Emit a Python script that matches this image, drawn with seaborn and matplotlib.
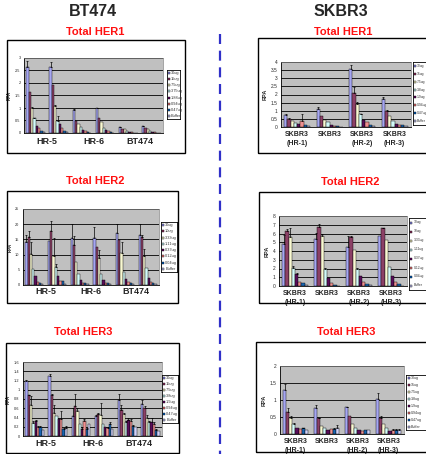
import numpy as np
import pandas as pd
import matplotlib
matplotlib.use("Agg")
import matplotlib.pyplot as plt
import matplotlib.transforms as mtrans
import seaborn as sns
from matplotlib.patches import Rectangle
from matplotlib.lines import Line2D

sns.set_style("white")
plt.rcParams["font.family"] = ["Liberation Sans", "DejaVu Sans"]

# ---------------- data ----------------
COLORS = ["#9999FF", "#993366", "#FFFFCC", "#CCFFFF", "#660066", "#FF8080", "#0066CC", "#CCCCFF"]

bt_cats = ["HR-5 a", "HR-5 b", "HR-6 a", "HR-6 b", "BT474 a", "BT474 b"]
bt_groups = ["HR-5", "HR-6", "BT474"]
sk_cats = ["SKBR3\n(HR-1)", "SKBR3", "SKBR3\n(HR-2)", "SKBR3\n(HR-3)"]

doses_bt_her1 = ["30ug", "15ug", "7.5ug", "3.75ug", "1.88ug", "0.94ug", "0.47ug", "Buffer"]
doses_her2 = ["30ug", "10ug", "3.33ug", "1.11ug", "0.37ug", "0.12ug", "0.04ug", "Buffer"]
doses_her3 = ["30ug", "15ug", "7.5ug", "3.8ug", "1.9ug", "0.94ug", "0.47ug", "Buffer"]
doses_sk_her1 = ["30ug", "15ug", "7.5ug", "3.8ug", "1.9ug", "0.94ug", "0.47ug", "Buffer"]

bt_her1 = [[2.65, 1.65, 1.00, 0.58, 0.30, 0.20, 0.10, 0.04],
           [2.65, 1.93, 1.07, 0.48, 0.35, 0.20, 0.08, 0.03],
           [0.92, 0.48, 0.37, 0.25, 0.13, 0.08, 0.05, 0.02],
           [0.98, 0.60, 0.45, 0.22, 0.13, 0.08, 0.05, 0.02],
           [0.25, 0.18, 0.15, 0.08, 0.05, 0.03, 0.02, 0.01],
           [0.27, 0.20, 0.15, 0.10, 0.05, 0.03, 0.02, 0.01]]
bt_her1_err = [[0.22, 0, 0.03, 0.03, 0, 0, 0, 0],
               [0.20, 0, 0.05, 0.20, 0, 0, 0, 0],
               [0.03, 0, 0, 0, 0, 0, 0, 0],
               [0.02, 0, 0, 0, 0, 0, 0, 0],
               [0.01, 0, 0, 0, 0, 0, 0, 0],
               [0.03, 0, 0, 0, 0, 0, 0, 0]]

bt_her2 = [[14.0, 15.8, 10.3, 5.2, 2.8, 1.0, 0.6, 0.3],
           [14.6, 17.6, 9.4, 5.8, 3.0, 1.3, 1.2, 0.3],
           [15.3, 13.2, 7.5, 3.7, 1.5, 0.6, 0.5, 0.2],
           [15.3, 12.5, 9.0, 3.6, 1.6, 0.6, 0.5, 0.2],
           [17.0, 14.8, 10.5, 4.2, 2.0, 1.0, 0.8, 0.3],
           [16.6, 15.8, 9.4, 5.6, 2.4, 1.0, 0.8, 0.3]]
bt_her2_err = [[2.5, 1.8, 3.7, 0, 0, 0, 0, 0],
               [0, 3.5, 6.0, 1.0, 0, 0, 0, 0],
               [4.7, 3.0, 0, 0, 0, 0, 0, 0],
               [3.8, 0, 2.5, 0, 0, 0, 0, 0],
               [3.0, 0, 3.5, 0, 0, 0, 0, 0],
               [3.4, 0.6, 2.5, 0, 0, 0, 0, 0]]

bt_her3 = [[1.20, 0.88, 0.66, 0.29, 0.32, 0.20, 0.20, 0.12],
           [1.30, 0.88, 0.50, 0.44, 0.36, 0.36, 0.15, 0.17],
           [0.44, 0.64, 0.54, 0.27, 0.16, 0.33, 0.15, 0.25],
           [0.44, 0.47, 0.46, 0.27, 0.20, 0.18, 0.26, 0.15],
           [0.78, 0.56, 0.48, 0.30, 0.35, 0.33, 0.22, 0.20],
           [0.70, 0.60, 0.40, 0.30, 0.30, 0.25, 0.14, 0.10]]
bt_her3_err = [[0.01, 0.01, 0.20, 0.04, 0.02, 0.02, 0.02, 0],
               [0.05, 0.03, 0.18, 0, 0, 0.17, 0.03, 0.05],
               [0.16, 0.26, 0.06, 0, 0.03, 0.03, 0.03, 0],
               [0.02, 0.02, 0.26, 0, 0, 0.02, 0.05, 0],
               [0.12, 0.11, 0.02, 0.03, 0.03, 0.03, 0.02, 0],
               [0.08, 0.05, 0.05, 0.02, 0.1, 0.05, 0.02, 0]]

sk_her1 = [[0.75, 0.52, 0.38, 0.25, 0.18, 0.35, 0.10, 0.05],
           [1.08, 0.68, 0.42, 0.28, 0.12, 0.08, 0.05, 0.02],
           [3.60, 2.10, 1.40, 0.80, 0.45, 0.30, 0.10, 0.05],
           [1.70, 1.00, 0.65, 0.38, 0.20, 0.15, 0.10, 0.08]]
sk_her1_err = [[0.08, 0.05, 0, 0, 0, 0.45, 0, 0],
               [0.17, 0, 0, 0, 0, 0, 0, 0],
               [0.22, 0.35, 0.15, 0.03, 0, 0, 0, 0],
               [0.12, 0.05, 0, 0, 0, 0, 0, 0]]

sk_her2 = [[4.8, 6.3, 5.6, 2.1, 1.4, 0.5, 0.3, 0.1],
           [5.4, 6.8, 5.7, 1.95, 0.95, 0.3, 0.1, 0.05],
           [4.5, 5.6, 4.1, 1.9, 1.2, 0.45, 0.2, 0.1],
           [5.7, 6.6, 5.3, 2.2, 1.1, 0.45, 0.2, 0.05]]
sk_her2_err = [[1.0, 0.2, 1.0, 0.2, 0.1, 0, 0, 0],
               [0.7, 0.3, 0.3, 0.1, 0, 0, 0, 0],
               [1.2, 0.1, 0, 0.2, 0, 0, 0, 0],
               [0, 0.05, 0, 0, 0, 0, 0, 0]]

sk_her3 = [[1.30, 0.65, 0.48, 0.30, 0.18, 0.16, 0.17, 0.13],
           [0.77, 0.46, 0.25, 0.18, 0.12, 0.14, 0.14, 0.17],
           [0.78, 0.52, 0.30, 0.18, 0.13, 0.10, 0.13, 0.13],
           [1.02, 0.48, 0.30, 0.18, 0.10, 0.11, 0.12, 0.12]]
sk_her3_err = [[0.16, 0.12, 0.04, 0.03, 0, 0, 0.02, 0],
               [0.08, 0.02, 0, 0, 0, 0, 0.03, 0.1],
               [0.02, 0, 0, 0, 0, 0, 0, 0],
               [0.18, 0.05, 0, 0, 0, 0.04, 0.04, 0.04]]

# ---------------- figure ----------------
W, H = 427, 454
fig = plt.figure(figsize=(W / 100, H / 100), dpi=100)
fig.patch.set_facecolor("white")


def frect(x0, y0, x1, y1):
    return [x0 / W, 1 - y1 / H, (x1 - x0) / W, (y1 - y0) / H]


def ftext(x, y, s, **kw):
    fig.text(x / W, 1 - y / H, s, ha="center", va="center", **kw)


def panel(box, plot, leg, title, title_xy, cats, vals, errs, doses, ylim,
          yticks, yticklabels, groups=None, group_y=None, tick_fs=2.8, xlab_fs=5.0,
          leg_fs=2.8):
    bx0, by0, bx1, by1 = box
    fig.add_artist(Rectangle((bx0 / W, 1 - by1 / H), (bx1 - bx0) / W, (by1 - by0) / H,
                             transform=fig.transFigure, fill=False, edgecolor="black", lw=1.0))
    ftext(title_xy[0], title_xy[1], title, color="#FF1010", fontsize=8, fontweight="bold")

    ax = fig.add_axes(frect(*plot))
    df = pd.DataFrame({
        "cat": np.repeat(cats, len(doses)),
        "dose": list(doses) * len(cats),
        "val": np.ravel(vals),
    })
    sns.barplot(data=df, x="cat", y="val", hue="dose", order=cats, hue_order=doses,
                palette=COLORS, edgecolor="black", linewidth=0.3, errorbar=None,
                legend=False, width=0.8, ax=ax)
    bar_containers = list(ax.containers)
    for i, cont in enumerate(bar_containers):
        for j, bar in enumerate(cont):
            e = errs[j][i]
            if e > 0:
                ax.errorbar(bar.get_x() + bar.get_width() / 2, bar.get_height(),
                            yerr=[[0], [e]], color="black", lw=0.5, capsize=0.8,
                            capthick=0.5)
    ax.set_facecolor("#C0C0C0")
    ax.set_ylim(*ylim)
    ax.set_yticks(yticks)
    ax.set_yticklabels(yticklabels, fontsize=tick_fs)
    ax.yaxis.grid(True, color="black", lw=0.6)
    ax.set_axisbelow(True)
    ax.set_xlabel("")
    ax.set_ylabel("RPA", fontsize=tick_fs + 0.5, fontweight="bold", labelpad=2)
    ax.tick_params(axis="y", length=1.5, width=0.4, pad=1)
    for s in ["left", "bottom"]:
        ax.spines[s].set_color("black")
        ax.spines[s].set_linewidth(0.6)
    for s in ["top", "right"]:
        ax.spines[s].set_color("#808080")
        ax.spines[s].set_linewidth(0.5)
    if groups is None:
        ax.set_xticks(range(len(cats)))
        ax.set_xticklabels(cats, fontsize=xlab_fs, fontweight="bold", linespacing=1.4)
        ax.tick_params(axis="x", length=2, width=0.4, pad=1)
    else:
        ax.set_xticks([1.5, 3.5])
        ax.set_xticklabels([])
        ax.tick_params(axis="x", length=2, width=0.4)
        trans = mtrans.blended_transform_factory(ax.transData, fig.transFigure)
        for k, g in enumerate(groups):
            ax.text(2 * k + 0.5, 1 - group_y / H, g, transform=trans, ha="center",
                    va="center", fontsize=6.5, fontweight="bold", clip_on=False)
    ax.set_xlim(-0.5, len(cats) - 0.5)

    # legend box
    lax = fig.add_axes(frect(*leg))
    lax.set_xlim(0, 1)
    lax.set_ylim(0, 1)
    lax.set_xticks([])
    lax.set_yticks([])
    for s in lax.spines.values():
        s.set_linewidth(0.6)
        s.set_color("black")
    n = len(doses)
    for i, (d, c) in enumerate(zip(doses, COLORS)):
        y = 1 - (i + 0.5) / n
        lax.scatter([0.14], [y], marker="s", s=2.5, color=c, edgecolor="black",
                    linewidths=0.3, clip_on=False)
        lax.text(0.26, y, d, fontsize=leg_fs, va="center", ha="left", color="#333333")
    return ax


# headers
ftext(93, 12, "BT474", fontsize=11.5, fontweight="bold")
ftext(341, 12, "SKBR3", fontsize=11.5, fontweight="bold")

# dashed separator
fig.add_artist(Line2D([220 / W, 220 / W], [1 - 34 / H, 0], transform=fig.transFigure,
                      color="#3030C8", lw=1.6, linestyle=(0, (4.5, 3.0))))

# BT474 panels
panel((7, 40, 185, 153), (24, 58, 163, 133), (167, 70, 180, 119), "Total HER1", (95, 32),
      bt_cats, bt_her1, bt_her1_err, doses_bt_her1, (0, 3),
      [0, 0.5, 1, 1.5, 2, 2.5, 3], ["0", "0.5", "1", "1.5", "2", "2.5", "3"],
      groups=bt_groups, group_y=141)
panel((7, 191, 178, 303), (23, 209, 159, 285), (161, 222, 177, 272), "Total HER2", (95, 181),
      bt_cats, bt_her2, bt_her2_err, doses_her2, (0, 25),
      [0, 5, 10, 15, 20, 25], ["0", "5", "10", "15", "20", "25"],
      groups=bt_groups, group_y=291)
panel((6, 343, 179, 453), (23, 362, 162, 436), (162, 375, 178, 423), "Total HER3", (83, 332),
      bt_cats, bt_her3, bt_her3_err, doses_her3, (0, 1.6),
      [0, 0.2, 0.4, 0.6, 0.8, 1.0, 1.2, 1.4, 1.6],
      ["0", "0.2", "0.4", "0.6", "0.8", "1", "1.2", "1.4", "1.6"],
      groups=bt_groups, group_y=443)

# SKBR3 panels
panel((258, 38, 432, 153), (281, 62, 411, 127), (413, 62, 426, 125), "Total HER1", (343, 32),
      sk_cats, sk_her1, sk_her1_err, doses_sk_her1, (0, 4),
      [0, 0.5, 1, 1.5, 2, 2.5, 3, 3.5, 4],
      ["0", "0.5", "1", "1.5", "2", "2.5", "3", "3.5", "4"], tick_fs=3.5, leg_fs=2.4)
panel((259, 192, 432, 303), (279, 216, 407, 286), (409, 218, 426, 290), "Total HER2", (350, 182),
      sk_cats, sk_her2, sk_her2_err, doses_her2, (0, 8),
      list(range(9)), [str(v) for v in range(9)], tick_fs=3.5, leg_fs=2.4)
panel((256, 342, 432, 452), (280, 366, 404, 434), (406, 375, 426, 430), "Total HER3", (346, 332),
      sk_cats, sk_her3, sk_her3_err, doses_her3, (0, 2),
      [0, 0.5, 1, 1.5, 2], ["0", "0.5", "1", "1.5", "2"], tick_fs=3.5, leg_fs=2.6)

fig.savefig("out.png", dpi=100)
